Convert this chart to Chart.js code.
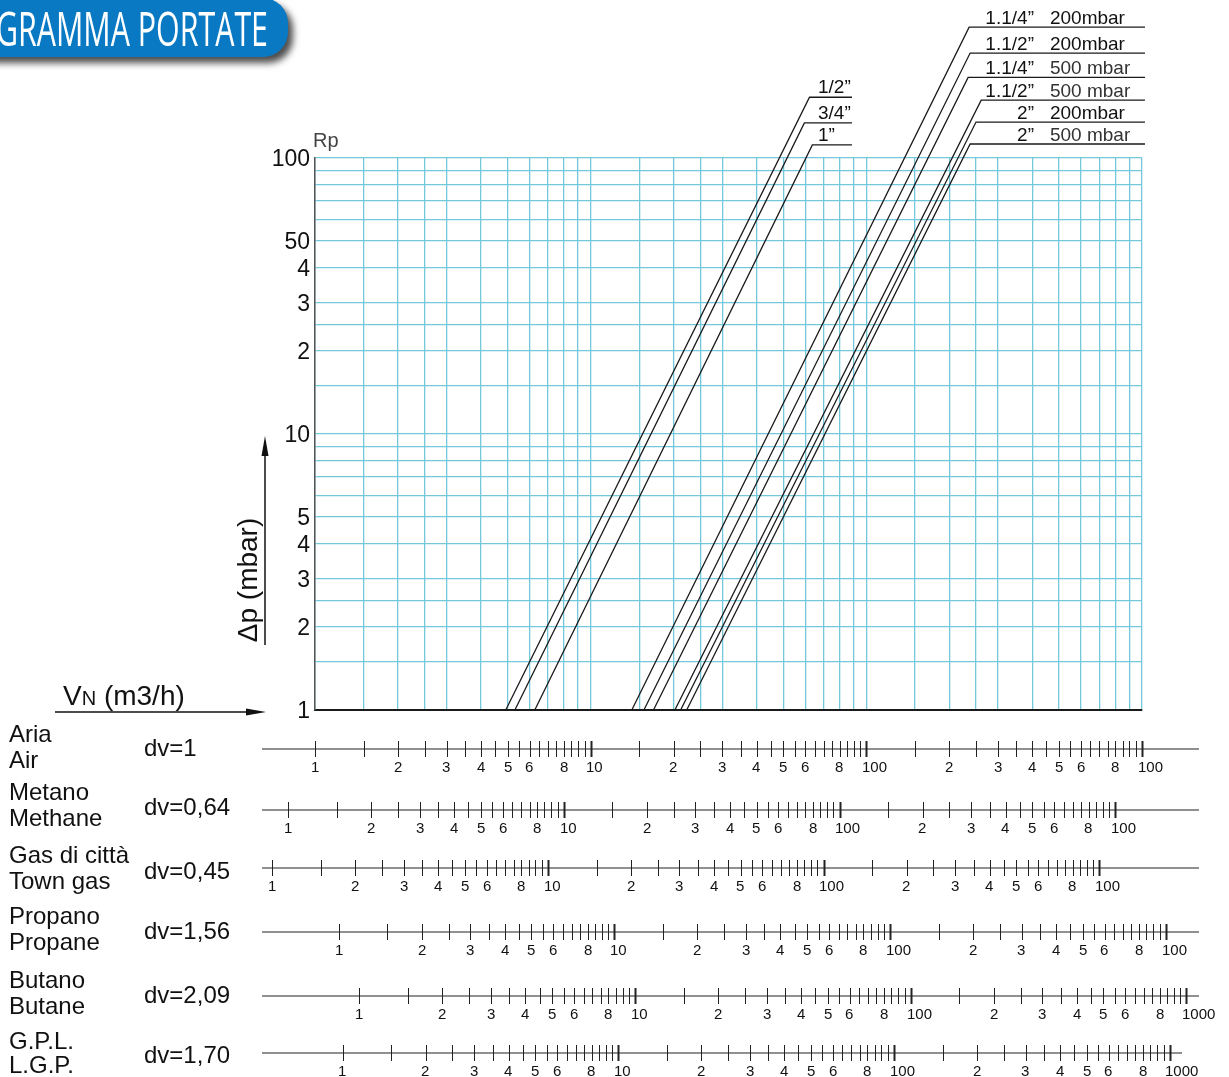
<!DOCTYPE html>
<html>
<head>
<meta charset="utf-8">
<script src="https://cdn.jsdelivr.net/npm/chart.js@4.4.1/dist/chart.umd.min.js"></script>
<style>
  html, body { margin: 0; padding: 0; background: #fff; }
  #wrap { position: relative; width: 1229px; height: 1077px; }
</style>
</head>
<body>
<div id="wrap"><canvas id="chart"></canvas></div>
<script>
// pipe curves: flow (m3/h, air) at dp = 1 mbar, and where each curve meets its label line
const pipeNames = ['1/2”', '3/4”', '1”', '1.1/4”', '1.1/2”', '1.1/4”', '1.1/2”', '2”', '2”'];
const pipePressure = ['', '', '', '200mbar', '200mbar', '500 mbar', '500 mbar', '200mbar', '500 mbar'];
const flowAt1mbar = [4.92, 5.31, 6.27, 14.1, 15.6, 16.9, 20.2, 21.2, 22.3];
const flowAtTop = [62.2, 59.6, 63.7, 236, 238, 234, 261, 250, 238];
const dpAtTop = [166, 134, 111.5, 298, 240, 196, 162, 135, 112.4];
const leaderEnd = [88.7, 88.7, 88.7, 1025, 1025, 1025, 1025, 1025, 1025];

// grid + axis labels
const xGridValues = [1, 1.5, 2, 2.5, 3, 4, 5, 6, 7, 8, 9, 10, 15, 20, 25, 30, 40, 50, 60, 70, 80, 90,
  100, 150, 200, 250, 300, 400, 500, 600, 700, 800, 900, 1000];
const yGridValues = [1, 1.5, 2, 2.5, 3, 4, 5, 6, 7, 8, 9, 10, 15, 20, 25, 30, 40, 50, 60, 70, 80, 90, 100];
const yTickValues = [1, 2, 3, 4, 5, 10, 20, 30, 40, 50, 100];
const yTickLabels = ['1', '2', '3', '4', '5', '10', '2', '3', '4', '50', '100'];

// gas scales under the chart
const gasNamesIt = ['Aria', 'Metano', 'Gas di città', 'Propano', 'Butano', 'G.P.L.'];
const gasNamesEn = ['Air', 'Methane', 'Town gas', 'Propane', 'Butane', 'L.G.P.'];
const gasDensity = ['dv=1', 'dv=0,64', 'dv=0,45', 'dv=1,56', 'dv=2,09', 'dv=1,70'];
const gasAirEquivalent = [1, 0.80, 0.70, 1.22, 1.45, 1.26]; // air flow found under "1" of each scale
const scaleDecades = [1, 10, 100];
const scaleTickMantissa = [1, 1.5, 2, 2.5, 3, 3.5, 4, 4.5, 5, 5.5, 6, 6.5, 7, 7.5, 8, 8.5, 9, 9.5];
const scaleLabelMantissa = [1, 2, 3, 4, 5, 6, 8];
const scaleLastLabel = ['100', '100', '100', '100', '1000', '1000'];

// layout of the lower block (pixels)
const rowLineY = [749, 810, 868, 932, 996, 1053];
const rowLineEnd = [1199, 1199, 1199, 1199, 1199, 1182];
const rowNameY = [[735, 761], [793, 819], [856, 882], [917, 943], [981, 1007], [1042, 1066]];
const rowDvY = [749, 808, 872, 932, 996, 1056];

const FONT = '"Liberation Sans", Arial, sans-serif';
const gridColor = '#74c8dc';

function line(ctx, x1, y1, x2, y2) {
  ctx.beginPath();
  ctx.moveTo(x1, y1);
  ctx.lineTo(x2, y2);
  ctx.stroke();
}

const diagramPlugin = {
  id: 'diagram',
  afterDraw(chart) {
    const ctx = chart.ctx;
    const xs = chart.scales.x;

    // title banner
    ctx.save();
    ctx.shadowColor = 'rgba(0,0,0,0.7)';
    ctx.shadowBlur = 7;
    ctx.shadowOffsetX = 5;
    ctx.shadowOffsetY = 6;
    ctx.fillStyle = '#0a79c3';
    const r = 25, right = 288, bottom = 57, top = -2;
    ctx.beginPath();
    ctx.moveTo(-40, top);
    ctx.lineTo(right - r, top);
    ctx.arcTo(right, top, right, top + r, r);
    ctx.lineTo(right, bottom - r);
    ctx.arcTo(right, bottom, right - r, bottom, r);
    ctx.lineTo(-40, bottom);
    ctx.closePath();
    ctx.fill();
    ctx.restore();

    ctx.save();
    ctx.fillStyle = '#fff';
    ctx.font = '47px "Open Sans", sans-serif';
    const tw = ctx.measureText('GRAMMA PORTATE').width;
    ctx.translate(268, 46);
    ctx.scale(272 / tw, 1);
    ctx.textAlign = 'right';
    ctx.textBaseline = 'alphabetic';
    ctx.fillText('GRAMMA PORTATE', 0, 0);
    ctx.restore();

    // pipe labels on the leader lines
    ctx.save();
    ctx.fillStyle = '#111';
    ctx.font = '19px ' + FONT;
    ctx.textBaseline = 'alphabetic';
    pipeNames.forEach((name, i) => {
      const pt = chart.getDatasetMeta(i).data[2];
      if (!pipePressure[i]) {
        ctx.textAlign = 'left';
        ctx.fillText(name, pt.x - 34, pt.y - 4);
      } else {
        ctx.textAlign = 'right';
        ctx.fillText(name, pt.x - 111, pt.y - 3);
        ctx.textAlign = 'left';
        ctx.fillStyle = pipePressure[i].indexOf(' ') > 0 ? '#333' : '#111';
        ctx.fillText(pipePressure[i], pt.x - 95, pt.y - 3);
        ctx.fillStyle = '#111';
      }
    });
    ctx.restore();

    // Rp
    ctx.save();
    ctx.fillStyle = '#444';
    ctx.font = '20px ' + FONT;
    ctx.textAlign = 'left';
    ctx.textBaseline = 'middle';
    ctx.fillText('Rp', 313, 141);
    ctx.restore();

    // dp axis title + arrow
    ctx.save();
    ctx.fillStyle = '#111';
    ctx.translate(249, 580);
    ctx.rotate(-Math.PI / 2);
    ctx.font = '28px ' + FONT;
    ctx.textAlign = 'center';
    ctx.textBaseline = 'middle';
    ctx.fillText('Δp (mbar)', 0, 0);
    ctx.restore();

    ctx.save();
    ctx.strokeStyle = '#111';
    ctx.fillStyle = '#111';
    ctx.lineWidth = 1.5;
    line(ctx, 265, 645, 265, 452);
    ctx.beginPath();
    ctx.moveTo(265, 436);
    ctx.lineTo(261.5, 456);
    ctx.lineTo(268.5, 456);
    ctx.closePath();
    ctx.fill();

    // VN axis title + arrow
    line(ctx, 55, 712, 248, 712);
    ctx.beginPath();
    ctx.moveTo(266, 712);
    ctx.lineTo(246, 708.5);
    ctx.lineTo(246, 715.5);
    ctx.closePath();
    ctx.fill();
    ctx.textBaseline = 'alphabetic';
    ctx.textAlign = 'left';
    ctx.font = '28px ' + FONT;
    ctx.fillText('V', 63, 705);
    const vw = ctx.measureText('V').width;
    ctx.font = '20px ' + FONT;
    ctx.fillText('N', 63 + vw, 705);
    const nw = ctx.measureText('N').width;
    ctx.font = '28px ' + FONT;
    ctx.fillText(' (m3/h)', 63 + vw + nw, 705);
    ctx.restore();

    // gas scales
    ctx.save();
    gasNamesIt.forEach((name, r) => {
      const y = rowLineY[r];
      const f = gasAirEquivalent[r];
      const px = v => xs.getPixelForValue(v * f);

      ctx.fillStyle = '#111';
      ctx.font = '24px ' + FONT;
      ctx.textAlign = 'left';
      ctx.textBaseline = 'middle';
      ctx.fillText(name, 9, rowNameY[r][0]);
      ctx.fillText(gasNamesEn[r], 9, rowNameY[r][1]);
      ctx.fillText(gasDensity[r], 144, rowDvY[r]);

      ctx.strokeStyle = '#222';
      ctx.lineWidth = 1.2;
      line(ctx, 262, y, rowLineEnd[r], y);

      ctx.font = '15px ' + FONT;
      ctx.textBaseline = 'middle';
      const label = (txt, v) => {
        const w0 = ctx.measureText(txt[0]).width;
        ctx.fillText(txt, Math.round(px(v) - w0 / 2), y + 19);
      };

      scaleDecades.forEach(d => {
        scaleTickMantissa.forEach(m => {
          const x = Math.round(px(m * d)) + 0.5;
          ctx.lineWidth = (m === 1 && d > 1) ? 2 : 1;
          line(ctx, x, y - 8, x, y + 8);
        });
        scaleLabelMantissa.forEach(m => {
          label(m === 1 ? String(d) : String(m), m * d);
        });
      });
      const xe = Math.round(px(1000)) + 0.5;
      ctx.lineWidth = 2;
      line(ctx, xe, y - 8, xe, y + 8);
      label(scaleLastLabel[r], 1000);
    });
    ctx.restore();
  }
};

new Chart(document.getElementById('chart'), {
  type: 'line',
  data: {
    datasets: pipeNames.map((name, i) => ({
      label: (name + ' ' + pipePressure[i]).trim(),
      data: [
        { x: flowAt1mbar[i], y: 1 },
        { x: flowAtTop[i], y: dpAtTop[i] },
        { x: leaderEnd[i], y: dpAtTop[i] }
      ],
      borderColor: '#1a1a1a',
      borderWidth: 1.3,
      pointRadius: 0,
      tension: 0,
      fill: false,
      clip: false
    }))
  },
  options: {
    responsive: true,
    maintainAspectRatio: false,
    animation: false,
    events: [],
    layout: { padding: { top: 158, right: 87, left: 0, bottom: 0 } },
    plugins: {
      legend: { display: false },
      tooltip: { enabled: false }
    },
    scales: {
      x: {
        type: 'logarithmic',
        min: 1,
        max: 1000,
        afterFit: s => { s.height = 367; },
        afterBuildTicks: s => { s.ticks = xGridValues.map(v => ({ value: v })); },
        ticks: { display: false },
        grid: { color: gridColor, lineWidth: 1.3, drawTicks: false },
        border: { color: '#1a1a1a', width: 2 }
      },
      y: {
        type: 'logarithmic',
        min: 1,
        max: 100,
        afterFit: s => { s.width = 315; },
        afterBuildTicks: s => { s.ticks = yGridValues.map(v => ({ value: v })); },
        ticks: {
          autoSkip: false,
          padding: 5,
          labelOffset: 2,
          color: '#111',
          font: { family: FONT, size: 23 },
          callback: v => {
            const k = yTickValues.indexOf(v);
            return k < 0 ? '' : yTickLabels[k];
          }
        },
        grid: { color: gridColor, lineWidth: 1.3, drawTicks: false },
        border: { color: '#555', width: 1.5 }
      }
    }
  },
  plugins: [diagramPlugin]
});
</script>
</body>
</html>
